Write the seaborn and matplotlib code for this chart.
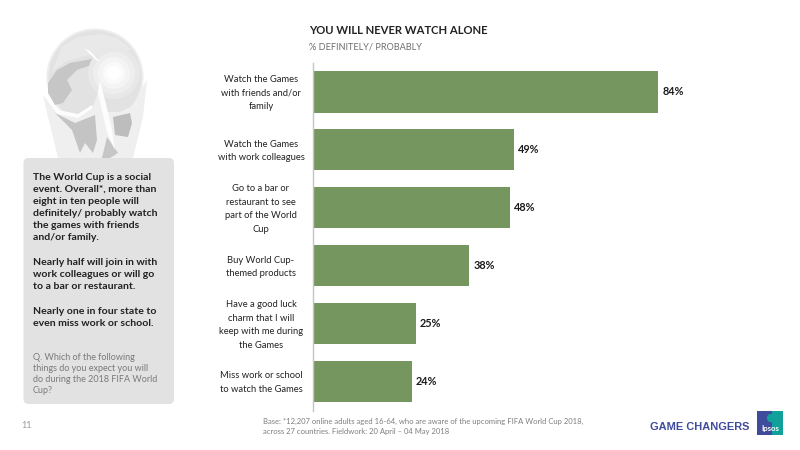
import matplotlib
matplotlib.use("Agg")
import matplotlib.pyplot as plt
from matplotlib.patches import Circle, Polygon, FancyBboxPatch, Rectangle
from matplotlib.transforms import ScaledTranslation
import pandas as pd
import seaborn as sns

categories = [
    "Watch the Games\nwith friends and/or\nfamily",
    "Watch the Games\nwith work colleagues",
    "Go to a bar or\nrestaurant to see\npart of the World\nCup",
    "Buy World Cup-\nthemed products",
    "Have a good luck\ncharm that I will\nkeep with me during\nthe Games",
    "Miss work or school\nto watch the Games",
]
values = [84, 49, 48, 38, 25, 24]
value_labels = ["84%", "49%", "48%", "38%", "25%", "24%"]

title = "YOU WILL NEVER WATCH ALONE"
subtitle = "% DEFINITELY/ PROBABLY"
panel_main = [
    "The World Cup is a social\nevent. Overall*, more than\neight in ten people will\ndefinitely/ probably watch\nthe games with friends\nand/or family.",
    "Nearly half will join in with\nwork colleagues or will go\nto a bar or restaurant.",
    "Nearly one in four state to\neven miss work or school.",
]
panel_question = "Q. Which of the following\nthings do you expect you will\ndo during the 2018 FIFA World\nCup?"
base_note = "Base: *12,207 online adults aged 16-64, who are aware of the upcoming FIFA World Cup 2018,\nacross 27 countries. Fieldwork: 20 April – 04 May 2018"
page_number = "11"
brand = "GAME CHANGERS"
logo_text = "Ipsos"

sns.set_theme(style="white")
plt.rcParams["font.family"] = ["Lato", "DejaVu Sans"]

W, H = 800, 450
fig = plt.figure(figsize=(8, 4.5), dpi=100, facecolor="white")

# chart axes
ax = fig.add_axes([313 / W, 1 - 410.5 / H, 437 / W, (410.5 - 63) / H])
df = pd.DataFrame({"cat": categories, "val": values})
sns.barplot(data=df, y="cat", x="val", orient="h", color="#76965F", saturation=1,
            width=0.71, linewidth=0, ax=ax)
ax.set_xlim(0, 437 / 4.107)
ax.set_xlabel("")
ax.set_ylabel("")
ax.set_xticks([])
ax.tick_params(axis="y", length=0, labelsize=6.75, labelcolor="#222222")
shift = ScaledTranslation(0, 1.5 / 72, fig.dpi_scale_trans)
for lab in ax.get_yticklabels():
    lab.set_horizontalalignment("center")
    lab.set_linespacing(1.66)
    lab.set_transform(ax.get_yaxis_transform() + shift)
    lab.set_x(-0.119)
for s in ["top", "right", "bottom"]:
    ax.spines[s].set_visible(False)
ax.spines["left"].set_color("#C4C4C4")
ax.spines["left"].set_linewidth(1)
for i, (v, t) in enumerate(zip(values, value_labels)):
    ax.annotate(t, (v, i), xytext=(3, 0), textcoords="offset points", va="center",
                ha="left", fontsize=7.8, fontweight="bold", color="#1a1a1a")

# overlay in pixel coordinates for page furniture
ov = fig.add_axes([0, 0, 1, 1], zorder=-1)
ov.set_xlim(0, W)
ov.set_ylim(H, 0)
ov.axis("off")


def poly(pts, c):
    ov.add_patch(Polygon(pts, fc=c, ec="none"))


# trophy illustration: globe
ov.add_patch(Circle((95, 77), 48.5, fc="#EDEDED", ec="none"))
ov.add_patch(Circle((95, 77), 46.5, fc="#E2E2E2", ec="none"))
poly([[48, 83], [57, 70], [70, 63], [97, 58], [97, 63], [77, 70], [67, 80], [72, 90],
      [63, 103], [55, 105], [48, 93]], "#C6C6C6")
poly([[62, 46], [78, 37], [100, 34], [118, 38], [132, 50], [110, 54], [85, 56], [65, 62], [52, 72]], "#E9E9E9")
for r, c in [(26, "#E8E8E8"), (21, "#EEEEEE"), (16, "#F4F4F4"), (11, "#FAFAFA"), (7, "#FFFFFF")]:
    ov.add_patch(Circle((114, 73), r, fc=c, ec="none"))
poly([[84, 48], [90, 51], [100, 62], [96, 60]], "white")
# arms and drape
poly([[43, 95], [48, 117], [58, 158], [133, 158], [143, 117], [147, 80], [141, 90], [136, 104],
      [120, 112], [106, 112], [101, 80], [98, 92], [93, 107], [78, 117], [57, 113]], "#EFEFEF")
poly([[46, 96], [58, 110], [78, 114], [92, 105], [93, 108], [78, 118], [57, 114]], "#FDFDFD")
poly([[55, 113], [75, 123], [95, 115], [97, 140], [93, 153], [85, 143], [80, 153], [72, 130]], "#C4C4C4")
poly([[113, 117], [130, 113], [132, 123], [128, 137], [115, 135]], "#BDBDBD")
poly([[107, 137], [118, 153], [110, 158], [102, 158]], "#C6C6C6")
poly([[100, 80], [105, 100], [112, 130], [115, 150], [107, 133], [98, 93]], "#FDFDFD")

# grey text panel
ov.add_patch(FancyBboxPatch((23.5, 158), 150.5, 246, boxstyle="round,pad=0,rounding_size=5",
                            fc="#E2E2E2", ec="none"))

ys = [173, 258, 307]
for y, t in zip(ys, panel_main):
    ov.text(33, y, t, fontsize=7.55, fontweight="bold", color="#222222",
            va="top", ha="left", linespacing=1.43)
ov.text(33, 353.5, panel_question, fontsize=6.5, color="#7A7A7A", va="top", ha="left", linespacing=1.28)

ov.text(21, 426, page_number, fontsize=6.5, color="#9A9A9A", ha="left", va="center")

# titles
ov.text(309, 30, title, fontsize=8.1, fontweight="bold", color="#222222", ha="left", va="center")
ov.text(309, 47, subtitle, fontsize=6.6, color="#6E6E6E", ha="left", va="center")

# footer
ov.text(263, 426.5, base_note, fontsize=5.5, color="#7F7F7F", ha="left", va="center", linespacing=1.42)
ov.text(650, 427, brand, fontsize=7.95, fontweight="bold", color="#3F4B9B", ha="left", va="center",
        family="Liberation Sans")
ov.add_patch(Rectangle((757, 411), 26, 23.5, fc="#3F4B9B", ec="none"))
ov.add_patch(Rectangle((772, 411), 11, 23.5, fc="#12A19A", ec="none"))
ov.add_patch(Circle((771, 418), 4.2, fc="#12A19A", ec="none"))
ov.text(770, 429, logo_text, fontsize=5.6, color="white", ha="center", va="center", fontweight="bold")

fig.savefig("out.png", dpi=100, facecolor="white")
